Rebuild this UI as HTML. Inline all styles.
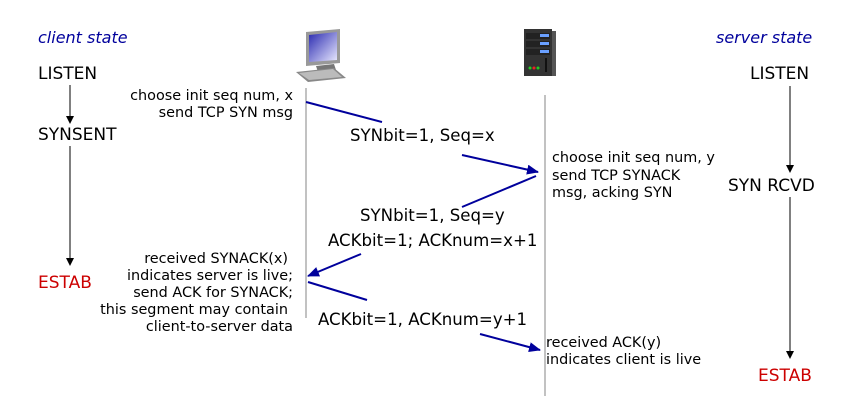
<!DOCTYPE html>
<html><head><style>
body{margin:0;background:#fff}
svg{display:block}
text{font-family:"DejaVu Sans",Verdana,sans-serif}
</style></head><body>
<svg width="852" height="401" viewBox="0 0 852 401" xmlns="http://www.w3.org/2000/svg">
<defs>
<marker id="ab" markerWidth="8" markerHeight="8" refX="7" refY="4" orient="auto" markerUnits="userSpaceOnUse"><path d="M0,0 L8,4 L0,8 z" fill="#000"/></marker>
<marker id="ar" markerWidth="12" markerHeight="10" refX="11" refY="5" orient="auto" markerUnits="userSpaceOnUse"><path d="M0,0 L12,5 L0,10 z" fill="#00009c"/></marker>
<linearGradient id="scr" x1="0" y1="0" x2="1" y2="1"><stop offset="0" stop-color="#2a2ab0"/><stop offset="1" stop-color="#e8e8ff"/></linearGradient>
</defs>
<text x="38" y="43" font-size="16" font-style="italic" fill="#00009c">client state</text>
<text x="716" y="43" font-size="16" font-style="italic" fill="#00009c">server state</text>
<g font-size="17" fill="#000">
<text x="38" y="79">LISTEN</text>
<text x="38" y="140">SYNSENT</text>
<text x="38" y="288" fill="#c00">ESTAB</text>
<text x="750" y="79">LISTEN</text>
<text x="728" y="191">SYN RCVD</text>
<text x="758" y="381" fill="#c00">ESTAB</text>
</g>
<g stroke="#000" stroke-width="1">
<line x1="70" y1="85" x2="70" y2="123" marker-end="url(#ab)"/>
<line x1="70" y1="146" x2="70" y2="265" marker-end="url(#ab)"/>
<line x1="790" y1="86" x2="790" y2="172" marker-end="url(#ab)"/>
<line x1="790" y1="197" x2="790" y2="358" marker-end="url(#ab)"/>
</g>
<line x1="306" y1="88" x2="306" y2="318" stroke="#999" stroke-width="1.2"/>
<line x1="545" y1="95" x2="545" y2="396" stroke="#999" stroke-width="1.2"/>
<g>
<polygon points="306,32 340,29 340,63 306,66" fill="#999"/>
<polygon points="309,35 337,32 337,60 309,62" fill="url(#scr)"/>
<polygon points="316,66 334,64 336,70 318,72" fill="#777"/>
<polygon points="296,72 334,68 346,78 308,82" fill="#888"/>
<polygon points="299,73 333,69 342,77 309,80" fill="#bbb"/>
</g>
<g>
<rect x="524" y="29" width="28" height="47" fill="#333"/>
<rect x="552" y="31" width="4" height="45" fill="#555"/>
<rect x="526" y="33" width="24" height="6" fill="#222"/>
<rect x="540" y="34" width="9" height="3" fill="#6aa0ff"/>
<rect x="526" y="41" width="24" height="6" fill="#222"/>
<rect x="540" y="42" width="9" height="3" fill="#6aa0ff"/>
<rect x="526" y="49" width="24" height="6" fill="#222"/>
<rect x="540" y="50" width="9" height="3" fill="#6aa0ff"/>
<circle cx="530" cy="68" r="1.5" fill="#2c2"/><circle cx="534" cy="68" r="1.5" fill="#e22"/><circle cx="538" cy="68" r="1.5" fill="#2c2"/>
<rect x="545" y="58" width="2" height="14" fill="#111"/>
</g>
<g stroke="#00009c" stroke-width="2" fill="none">
<line x1="306" y1="102" x2="382" y2="122"/>
<line x1="462" y1="155" x2="538" y2="172" marker-end="url(#ar)"/>
<line x1="536" y1="176" x2="462" y2="207"/>
<line x1="361" y1="254" x2="308" y2="276" marker-end="url(#ar)"/>
<line x1="308" y1="282" x2="367" y2="300"/>
<line x1="480" y1="334" x2="540" y2="350" marker-end="url(#ar)"/>
</g>
<g font-size="16.6" fill="#000">
<text x="350" y="141">SYNbit=1, Seq=x</text>
<text x="360" y="221">SYNbit=1, Seq=y</text>
<text x="328" y="246">ACKbit=1; ACKnum=x+1</text>
<text x="318" y="325">ACKbit=1, ACKnum=y+1</text>
</g>
<g font-size="14.4" fill="#000" text-anchor="end">
<text x="293" y="100">choose init seq num, x</text>
<text x="293" y="117">send TCP SYN msg</text>
<text x="288" y="263">received SYNACK(x)</text>
<text x="293" y="280">indicates server is live;</text>
<text x="293" y="297">send ACK for SYNACK;</text>
<text x="288" y="314">this segment may contain</text>
<text x="293" y="331">client-to-server data</text>
</g>
<g font-size="14.4" fill="#000">
<text x="552" y="162">choose init seq num, y</text>
<text x="552" y="180">send TCP SYNACK</text>
<text x="552" y="197">msg, acking SYN</text>
<text x="546" y="347">received ACK(y)</text>
<text x="546" y="364">indicates client is live</text>
</g>
</svg>
</body></html>
